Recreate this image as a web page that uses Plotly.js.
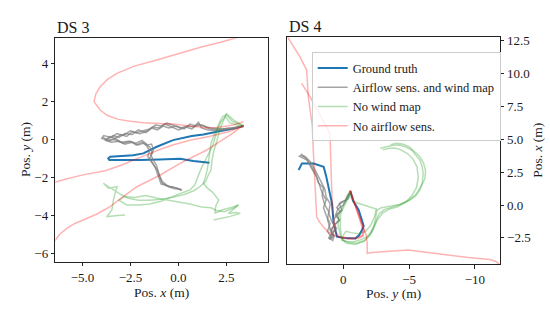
<!DOCTYPE html>
<html>
<head>
<meta charset="utf-8">
<script src="https://cdn.plot.ly/plotly-3.0.1.min.js"></script>
<style>html,body{margin:0;padding:0;background:#fff}#chart{width:550px;height:314px}</style>
</head>
<body>
<div id="chart"></div>
<script>
// ---------- DS 3 (left panel): Pos. x (horizontal), Pos. y (vertical) ----------
const ds3_gt_x = [3.39, 2.8, 2.0, 1.3, 0.7, -0.28, -1.13, -1.83, -2.35, -3.0, -3.56, -3.66, -3.6, -2.8, -2.0, -1.0, 0.09, 0.78, 1.62];
const ds3_gt_y = [0.7, 0.55, 0.4, 0.25, 0.17, -0.04, -0.39, -0.74, -0.84, -0.88, -0.91, -1.0, -1.09, -1.08, -1.09, -1.06, -1.02, -1.14, -1.23];

const ds3_air1_x = [3.39, 2.9, 2.4, 1.9, 1.5, 1.2, 1.05, 0.8, 0.5, 0.1, -0.3, -0.6, -0.9, -1.2, -1.5, -1.8, -2.2, -2.5, -2.9, -3.2, -3.5, -3.9, -4.0, -3.7, -3.4, -3.0, -2.6, -2.2, -1.9, -1.6, -1.4, -1.3, -1.45, -1.3, -1.15, -1.05, -0.95, -0.85, -0.6, -0.3, 0.0, 0.2];
const ds3_air1_y = [0.7, 0.55, 0.5, 0.45, 0.5, 0.6, 0.9, 0.65, 0.7, 0.6, 0.75, 0.85, 0.7, 0.75, 0.55, 0.45, 0.35, 0.45, 0.2, 0.3, 0.1, 0.2, 0.05, -0.05, 0.0, -0.15, -0.1, -0.2, -0.05, -0.3, -0.25, -0.55, -0.8, -1.1, -1.35, -1.7, -2.0, -2.3, -2.45, -2.5, -2.6, -2.65];
const ds3_air2_x = [3.39, 2.8, 2.2, 1.7, 1.3, 1.0, 0.7, 0.4, 0.0, -0.4, -0.7, -1.0, -1.3, -1.6, -2.0, -2.4, -2.7, -3.0, -3.3, -3.6, -3.8, -3.5, -3.1, -2.8, -2.4, -2.1, -1.8, -1.5, -1.35, -1.5, -1.35, -1.2, -1.1, -1.0, -0.9, -0.7, -0.4, -0.1, 0.15];
const ds3_air2_y = [0.72, 0.6, 0.55, 0.6, 0.7, 0.8, 0.55, 0.65, 0.5, 0.65, 0.8, 0.6, 0.65, 0.45, 0.3, 0.4, 0.15, 0.25, 0.05, 0.15, -0.05, -0.15, -0.1, -0.25, -0.15, -0.3, -0.2, -0.4, -0.7, -1.0, -1.25, -1.5, -1.8, -2.1, -2.35, -2.4, -2.5, -2.55, -2.7];
const ds3_air3_x = [3.39, 3.0, 2.5, 2.0, 1.6, 1.25, 0.9, 0.6, 0.3, -0.1, -0.5, -0.8, -1.1, -1.4, -1.7, -2.1, -2.4, -2.8, -3.1, -3.4, -3.7, -3.95, -3.6, -3.3, -2.9, -2.5, -2.2, -1.9, -1.65, -1.5, -1.6, -1.4, -1.25, -1.1, -1.0, -0.85, -0.7, -0.5, -0.2, 0.1];
const ds3_air3_y = [0.68, 0.62, 0.58, 0.5, 0.55, 0.75, 0.7, 0.8, 0.55, 0.7, 0.6, 0.7, 0.5, 0.6, 0.35, 0.5, 0.25, 0.3, 0.1, 0.2, 0.0, 0.1, -0.1, 0.05, -0.2, -0.1, -0.3, -0.15, -0.35, -0.6, -0.9, -1.15, -1.4, -1.6, -1.9, -2.2, -2.35, -2.5, -2.6, -2.62];

const ds3_nowind1_x = [3.39, 2.9, 2.5, 2.35, 2.15, 2.0, 1.85, 1.75, 1.7, 1.55, 1.4, 1.1, 0.8, 0.3, -0.3, -0.9, -1.5, -2.1, -2.6, -3.0, -3.3, -3.6, -3.91, -3.65, -3.2, -3.3, -3.39, -3.47, -3.74, -3.2, -2.78];
const ds3_nowind1_y = [0.7, 1.0, 1.35, 1.0, 0.5, -0.1, -0.6, -1.1, -1.6, -1.9, -2.25, -2.5, -2.7, -2.9, -3.05, -3.15, -3.2, -3.2, -3.1, -2.9, -2.7, -2.5, -2.31, -2.57, -2.49, -2.84, -3.19, -3.72, -4.07, -4.0, -3.98];
const ds3_nowind2_x = [3.39, 2.8, 2.5, 2.3, 2.1, 1.9, 1.7, 1.65, 1.6, 1.5, 1.4, 1.3, 1.5, 1.8, 2.1, 1.95, 1.9, 2.3, 2.7, 3.13, 2.9, 2.6, 3.0, 3.22, 2.7, 2.2, 1.83];
const ds3_nowind2_y = [0.72, 0.95, 1.3, 1.2, 0.8, 0.3, -0.2, -0.56, -1.0, -1.62, -2.0, -2.31, -2.55, -2.8, -3.19, -3.5, -3.89, -3.7, -3.6, -3.45, -3.65, -3.9, -3.85, -3.89, -4.05, -4.15, -4.24];
const ds3_nowind3_x = [3.39, 2.7, 2.45, 2.2, 2.0, 1.8, 1.5, 1.2, 1.0, 0.85, 0.6, 0.2, -0.3, -0.9, -1.5, -2.1, -2.7, -3.1, -2.8, -2.3, -1.7, -1.1, -0.5, 0.1, 0.6, 1.2, 1.7, 2.0, 2.4, 2.9, 3.13];
const ds3_nowind3_y = [0.68, 0.85, 1.2, 0.9, 0.4, -0.3, -0.9, -1.5, -2.0, -2.4, -2.66, -2.8, -3.0, -3.25, -3.4, -3.45, -3.45, -3.2, -3.0, -3.05, -2.95, -3.1, -3.2, -3.3, -3.4, -3.55, -3.6, -3.75, -3.8, -3.6, -3.45];

const ds3_noair1_x = [3.39, 2.87, 2.0, 1.48, 0.6, -0.26, -1.0, -1.83, -2.5, -3.13, -3.7, -4.08, -4.4, -4.3, -4.08, -3.7, -3.21, -2.3, -1.13, 0.0, 1.2, 2.2, 2.86, 3.4];
const ds3_noair1_y = [0.92, 0.75, 0.62, 0.61, 0.7, 0.8, 0.83, 0.87, 0.95, 1.05, 1.25, 1.54, 1.98, 2.4, 2.76, 3.15, 3.47, 3.85, 4.17, 4.5, 4.85, 5.1, 5.3, 5.45];
const ds3_noair2_x = [3.39, 2.8, 2.2, 1.48, 0.8, 0.09, -1.0, -2.17, -3.0, -3.56, -4.3, -4.96, -5.4, -5.82, -6.2, -6.5];
const ds3_noair2_y = [0.75, 0.3, -0.1, -0.56, -0.9, -1.26, -1.9, -2.49, -3.1, -3.54, -3.95, -4.24, -4.42, -4.68, -5.0, -5.4];
const ds3_noair3_x = [3.39, 2.6, 1.6, 0.6, -0.3, -1.04, -1.91, -2.95, -3.82, -5.04, -6.0, -6.6];
const ds3_noair3_y = [0.7, 0.4, 0.15, -0.05, -0.3, -0.56, -0.91, -1.35, -1.65, -1.88, -2.12, -2.3];

// ---------- DS 4 (right panel): Pos. y (horizontal, reversed), Pos. x (vertical) ----------
const ds4_gt_x = [-0.53, -0.75, -1.17, -1.42, -1.55, -1.42, -1.2, -0.91, 0.0, 0.48, 0.6, 0.73, 0.86, 1.11, 1.3, 1.49, 2.25, 3.14, 3.39];
const ds4_gt_y = [1.09, 0.3, -0.38, -1.14, -1.6, -1.9, -2.3, -2.54, -2.5, -2.41, -1.9, -1.39, 0.13, 1.39, 2.2, 2.92, 3.17, 3.17, 2.67];

const ds4_air1_x = [-0.53, -0.4, -0.1, 0.3, 0.1, 0.5, 0.3, 0.7, 0.9, 0.7, 1.0, 0.8, 0.6, 0.9, 1.1, 1.0, 1.3, 1.4, 1.7, 1.9, 2.2, 2.5, 2.9, 3.3];
const ds4_air1_y = [1.0, 0.5, 0.3, 0.1, -0.4, -0.7, -1.2, -1.5, -2.0, -2.4, -2.6, -2.2, -1.7, -1.2, -0.6, 0.1, 0.6, 1.2, 1.8, 2.3, 2.8, 3.3, 3.7, 3.8];
const ds4_air2_x = [-0.5, -0.2, 0.2, 0.5, 0.2, 0.6, 0.8, 0.5, 0.9, 1.1, 0.8, 0.7, 1.0, 1.2, 1.1, 1.4, 1.6, 1.5, 1.9, 2.1, 2.4, 2.7, 3.1, 3.4];
const ds4_air2_y = [0.9, 0.4, 0.2, -0.2, -0.5, -0.9, -1.3, -1.8, -2.2, -2.5, -2.7, -2.3, -1.8, -1.1, -0.5, 0.0, 0.7, 1.3, 1.7, 2.4, 2.9, 3.4, 3.6, 3.75];
const ds4_air3_x = [-0.55, -0.3, 0.0, 0.4, 0.6, 0.3, 0.7, 1.0, 0.8, 1.1, 0.9, 1.2, 1.0, 1.3, 1.5, 1.3, 1.6, 1.8, 2.0, 2.3, 2.6, 2.8, 3.2];
const ds4_air3_y = [1.05, 0.7, 0.0, -0.3, -0.8, -1.1, -1.6, -1.9, -2.3, -2.6, -2.45, -2.0, -1.4, -0.8, -0.2, 0.4, 0.9, 1.5, 2.1, 2.6, 3.1, 3.5, 3.9];

const ds4_nowind1_x = [-0.53, -0.4, -0.1, 0.2, 0.23, 0.15, 0.1, -0.3, -0.79, -1.3, -1.8, -2.1, -2.31, -2.45, -2.56, -2.9, -3.32, -3.8, -4.3, -5.06, -5.5, -5.82, -6.0, -6.07, -6.0, -5.82, -5.5, -5.19, -4.8, -4.3, -3.8, -3.3, -2.81];
const ds4_nowind1_y = [1.09, 0.6, 0.0, -0.7, -1.65, -2.2, -2.67, -2.8, -2.8, -2.65, -2.41, -2.05, -1.65, -1.0, -0.38, -0.2, -0.13, -0.05, 0.05, 0.38, 0.7, 1.14, 1.7, 2.41, 2.9, 3.43, 3.85, 4.19, 4.4, 4.57, 4.55, 4.45, 4.32];
const ds4_nowind2_x = [-0.55, -0.6, -0.79, -1.3, -2.05, -2.5, -2.4, -2.1, -1.7, -1.2, -0.6, -0.2, 0.0, 0.1, -0.4, -1.0, -1.6, -2.0, -2.3, -2.6, -3.0, -3.5, -4.1, -4.7, -5.2, -5.55, -5.7, -5.6, -5.3, -4.9, -4.4, -3.9, -3.4, -3.0];
const ds4_nowind2_y = [1.0, 0.6, 0.25, 0.1, -0.13, -0.3, -0.8, -1.5, -2.0, -2.2, -2.1, -2.0, -2.3, -2.65, -2.85, -2.9, -2.7, -2.3, -1.8, -1.1, -0.6, -0.3, -0.15, 0.2, 0.7, 1.3, 2.1, 2.9, 3.5, 3.9, 4.2, 4.35, 4.3, 4.2];
const ds4_nowind3_x = [-0.5, -0.2, 0.3, 0.4, 0.2, -0.2, -0.9, -1.6, -2.1, -2.4, -2.7, -3.1, -3.6, -4.2, -4.9, -5.5, -5.9, -6.2, -6.25, -6.1, -5.8, -5.4, -5.0, -4.5, -4.0, -3.6];
const ds4_nowind3_y = [1.05, 0.3, -0.6, -1.5, -2.4, -2.9, -3.0, -2.75, -2.2, -1.5, -0.7, -0.35, -0.2, 0.0, 0.3, 0.8, 1.4, 2.0, 2.6, 3.2, 3.7, 4.1, 4.45, 4.65, 4.7, 4.6];

const ds4_noair1_x = [-0.53, -0.9, -1.25, -1.5, -1.45, -1.2, -0.6, 0.1, 0.76, 1.2, 1.52, 1.8, 2.02, 2.1, 2.2, 2.28, 2.35, 2.5, 2.66, 2.78, 3.3, 3.8, 4.3];
const ds4_noair1_y = [1.09, 0.0, -1.0, -1.9, -2.3, -2.45, -2.5, -2.46, -2.28, -2.0, -1.65, -1.3, -0.89, 0.5, 2.5, 4.19, 6.0, 7.2, 8.25, 10.28, 11.3, 12.1, 12.9];
const ds4_noair2_x = [-0.53, -0.95, -1.3, -1.6, -1.5, -1.1, -0.4, 0.3, 0.6, 0.75, 0.86, 0.88, 0.95, 1.01, 1.8, 2.53, 3.16];
const ds4_noair2_y = [1.09, -0.1, -1.0, -1.9, -2.35, -2.55, -2.6, -2.45, -2.0, -0.8, 0.63, 2.0, 3.43, 5.46, 6.9, 8.25, 9.27];
const ds4_noair3_x = [-0.53, -0.95, -1.3, -1.55, -1.75, -1.82, -1.82, -2.2, -2.79, -3.8, -4.94, -6.2, -7.85, -9.5, -11.14, -11.6, -11.9];
const ds4_noair3_y = [1.09, -0.2, -1.1, -1.8, -2.3, -3.0, -3.68, -3.62, -3.56, -3.5, -3.43, -3.6, -3.81, -4.0, -4.14, -4.3, -4.55];

const legendNames = ['Ground truth', 'Airflow sens. and wind map', 'No wind map', 'No airflow sens.'];

// ---------- styling ----------
const FONT = 'Liberation Serif, Times New Roman, serif';
const TXT = '#1a1a1a';
const STY = {
  gt:     {color: '#1f77b4', width: 2},
  air:    {color: 'rgba(127,127,127,0.7)', width: 1.5},
  nowind: {color: 'rgba(44,160,44,0.35)', width: 1.5},
  noair:  {color: 'rgba(255,0,0,0.3)', width: 1.5}
};
const traces = [];
function add(x, y, key, name, axes, show) {
  traces.push({
    type: 'scatter', mode: 'lines', x: x, y: y, name: name,
    legendgroup: key, showlegend: show,
    line: Object.assign({}, STY[key]),
    xaxis: axes[0], yaxis: axes[1], hoverinfo: 'skip'
  });
}
const A1 = ['x', 'y'], A2 = ['x2', 'y2'];
// DS 3
add(ds3_gt_x, ds3_gt_y, 'gt', legendNames[0], A1, true);
add(ds3_air1_x, ds3_air1_y, 'air', legendNames[1], A1, true);
add(ds3_air2_x, ds3_air2_y, 'air', legendNames[1], A1, false);
add(ds3_air3_x, ds3_air3_y, 'air', legendNames[1], A1, false);
add(ds3_nowind1_x, ds3_nowind1_y, 'nowind', legendNames[2], A1, true);
add(ds3_nowind2_x, ds3_nowind2_y, 'nowind', legendNames[2], A1, false);
add(ds3_nowind3_x, ds3_nowind3_y, 'nowind', legendNames[2], A1, false);
add(ds3_noair1_x, ds3_noair1_y, 'noair', legendNames[3], A1, true);
add(ds3_noair2_x, ds3_noair2_y, 'noair', legendNames[3], A1, false);
add(ds3_noair3_x, ds3_noair3_y, 'noair', legendNames[3], A1, false);
// DS 4
add(ds4_gt_x, ds4_gt_y, 'gt', legendNames[0], A2, false);
add(ds4_air1_x, ds4_air1_y, 'air', legendNames[1], A2, false);
add(ds4_air2_x, ds4_air2_y, 'air', legendNames[1], A2, false);
add(ds4_air3_x, ds4_air3_y, 'air', legendNames[1], A2, false);
add(ds4_nowind1_x, ds4_nowind1_y, 'nowind', legendNames[2], A2, false);
add(ds4_nowind2_x, ds4_nowind2_y, 'nowind', legendNames[2], A2, false);
add(ds4_nowind3_x, ds4_nowind3_y, 'nowind', legendNames[2], A2, false);
add(ds4_noair1_x, ds4_noair1_y, 'noair', legendNames[3], A2, false);
add(ds4_noair2_x, ds4_noair2_y, 'noair', legendNames[3], A2, false);
add(ds4_noair3_x, ds4_noair3_y, 'noair', legendNames[3], A2, false);

const axBase = {
  showgrid: false, zeroline: false, showline: true, mirror: true,
  linecolor: '#222', linewidth: 1, ticks: 'outside', ticklen: 3.5,
  tickwidth: 1, tickcolor: '#222',
  tickfont: {family: FONT, size: 13, color: TXT}, automargin: false
};
const layout = {
  width: 550, height: 314,
  margin: {l: 0, r: 0, t: 0, b: 0},
  paper_bgcolor: '#fff', plot_bgcolor: '#fff',
  font: {family: FONT, color: TXT},
  xaxis: Object.assign({}, axBase, {domain: [0.1005, 0.488], range: [-6.42, 4.69], tickvals: [-5, -2.5, 0, 2.5], tickformat: '.1f', anchor: 'y'}),
  yaxis: Object.assign({}, axBase, {domain: [0.1666, 0.878], range: [-6.43, 5.31], tick0: 0, dtick: 2, anchor: 'x'}),
  xaxis2: Object.assign({}, axBase, {domain: [0.5224, 0.909], range: [4.25, -11.9], tick0: 0, dtick: 5, anchor: 'y2'}),
  yaxis2: Object.assign({}, axBase, {domain: [0.1592, 0.8831], range: [-4.49, 12.82], tick0: 0, dtick: 2.5, tickformat: '.1f', side: 'right', anchor: 'x2'}),
  showlegend: true,
  legend: {
    x: 0.5667, y: 0.833, xanchor: 'left', yanchor: 'top',
    bgcolor: 'rgba(255,255,255,0.8)', bordercolor: '#cccccc', borderwidth: 1,
    font: {family: FONT, size: 12.5, color: TXT}, tracegroupgap: 0
  },
  annotations: [
    {text: 'DS 3', xref: 'paper', yref: 'paper', x: 0.1005, y: 0.878, xanchor: 'left', yanchor: 'bottom', showarrow: false, font: {family: FONT, size: 16, color: TXT}},
    {text: 'DS 4', xref: 'paper', yref: 'paper', x: 0.5224, y: 0.8831, xanchor: 'left', yanchor: 'bottom', showarrow: false, font: {family: FONT, size: 16, color: TXT}},
    {text: 'Pos. <i>x</i> (m)', xref: 'paper', yref: 'paper', x: 0.2942, y: 0.070, xanchor: 'center', yanchor: 'middle', showarrow: false, font: {family: FONT, size: 13.5, color: TXT}},
    {text: 'Pos. <i>y</i> (m)', xref: 'paper', yref: 'paper', x: 0.0455, y: 0.522, xanchor: 'center', yanchor: 'middle', textangle: -90, showarrow: false, font: {family: FONT, size: 13.5, color: TXT}},
    {text: 'Pos. <i>y</i> (m)', xref: 'paper', yref: 'paper', x: 0.7158, y: 0.066, xanchor: 'center', yanchor: 'middle', showarrow: false, font: {family: FONT, size: 13.5, color: TXT}},
    {text: 'Pos. <i>x</i> (m)', xref: 'paper', yref: 'paper', x: 0.9758, y: 0.522, xanchor: 'center', yanchor: 'middle', textangle: -90, showarrow: false, font: {family: FONT, size: 13.5, color: TXT}}
  ]
};
Plotly.newPlot('chart', traces, layout, {staticPlot: true, displayModeBar: false});
</script>
</body>
</html>
